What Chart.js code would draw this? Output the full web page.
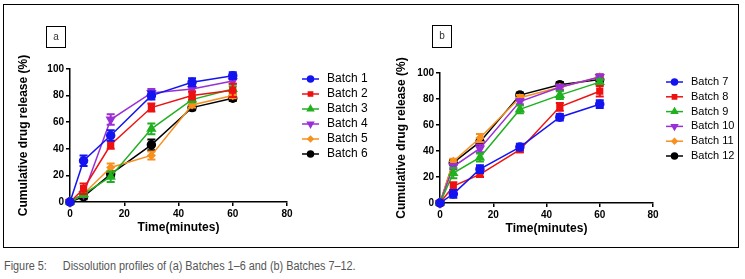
<!DOCTYPE html>
<html>
<head>
<meta charset="utf-8">
<script src="https://cdn.jsdelivr.net/npm/chart.js@4.4.1/dist/chart.umd.min.js"></script>
<style>
  body { margin: 0; background: #fff; width: 745px; height: 279px; position: relative; overflow: hidden; font-family: "Liberation Sans", Arial, sans-serif; }
  #frame { position: absolute; left: 3px; top: 4px; width: 734px; height: 242px; border: 1.5px solid #000; }
  .tag { position: absolute; width: 18px; height: 20px; border: 1px solid #000; font-size: 10px; line-height: 20px; text-align: center; color: #333; }
  canvas { position: absolute; top: 0; }
  #caption { position: absolute; left: 4px; top: 259px; font-family: "Liberation Sans Narrow", "Liberation Sans", sans-serif; font-size: 12px; color: #555; white-space: nowrap; transform: scaleX(0.905); transform-origin: 0 0; }
  #caption span { display: inline-block; width: 65px; }
</style>
</head>
<body>
<div id="frame"></div>
<canvas id="chartA" width="372" height="249" style="left:0"></canvas>
<canvas id="chartB" width="373" height="249" style="left:372px"></canvas>
<div class="tag" style="left:46px; top:26px;">a</div>
<div class="tag" style="left:432px; top:25px; height:21px;">b</div>
<div id="caption"><span>Figure 5:</span>Dissolution profiles of (a) Batches 1–6 and (b) Batches 7–12.</div>
<script>
// sampling times (minutes)
const timePoints = [0, 5, 15, 30, 45, 60];

// panel a
const namesA = ['Batch 1', 'Batch 2', 'Batch 3', 'Batch 4', 'Batch 5', 'Batch 6'];
const batch1 = [0, 31, 50, 80, 90, 95];
const batch2 = [0, 10, 43, 71, 80, 84];
const batch3 = [0, 6, 19, 55, 77, 85];
const batch4 = [0, 6, 62, 82, 85, 91];
const batch5 = [0, 6, 26, 35, 73, 80];
const batch6 = [0, 4, 21, 43, 71, 78];
const batch1Err = [0, 4, 4, 3, 3, 2.5];
const batch2Err = [0, 4, 3, 3, 3, 5];
const batch3Err = [0, 2, 4, 4, 2, 2];
const batch4Err = [0, 0, 4, 3, 2, 2];
const batch5Err = [0, 2, 3, 3, 2, 2];
const batch6Err = [0, 2, 2, 4, 2, 2];

// panel b
const namesB = ['Batch 7', 'Batch 8', 'Batch 9', 'Batch 10', 'Batch 11', 'Batch 12'];
const batch7 = [0, 7, 26, 43, 66, 76];
const batch8 = [0, 13, 22, 41, 74, 86];
const batch9 = [0, 23, 35, 72, 83, 93];
const batch10 = [0, 28, 42, 78, 89, 97];
const batch11 = [0, 32, 50, 81, 89, 97];
const batch12 = [0, 31, 47, 83, 91, 95];
const batch7Err = [0, 3, 3, 2.5, 2.5, 3];
const batch8Err = [0, 3, 2, 2, 3, 4];
const batch9Err = [0, 4, 3, 3, 3, 2];
const batch10Err = [0, 2, 3, 2, 2, 2];
const batch11Err = [0, 2, 3, 2, 2, 2];
const batch12Err = [0, 2, 2, 2, 2, 2];

const yTicks = [0, 20, 40, 60, 80, 100];
const xTicks = [0, 20, 40, 60, 80];

const colors = ['#1414f0', '#ee1111', '#20b020', '#9a2fd6', '#f7901e', '#000000'];
const shapes = ['circle', 'rect', 'triangle', 'triangle', 'rectRot', 'circle'];
const rotations = [0, 0, 0, 180, 0, 0];
const radii = [4, 4, 4.5, 4.5, 3.5, 4];

const fontFamily = '"Liberation Sans", Arial, sans-serif';

// draws the error bars of each dataset right after the dataset itself
const errorBars = {
  id: 'errorBars',
  afterDatasetDraw(chart, args) {
    const ds = chart.data.datasets[args.index];
    if (!ds.errors) return;
    const ys = chart.scales.y;
    const ctx = chart.ctx;
    ctx.save();
    ctx.strokeStyle = ds.borderColor;
    ctx.lineWidth = 2;
    args.meta.data.forEach((pt, i) => {
      const e = ds.errors[i];
      if (!e) return;
      const v = ds.data[i].y;
      const top = ys.getPixelForValue(v + e);
      const bot = ys.getPixelForValue(v - e);
      ctx.beginPath();
      ctx.moveTo(pt.x, top); ctx.lineTo(pt.x, bot);
      ctx.moveTo(pt.x - 4, top); ctx.lineTo(pt.x + 4, top);
      ctx.moveTo(pt.x - 4, bot); ctx.lineTo(pt.x + 4, bot);
      ctx.stroke();
    });
    ctx.restore();
  }
};

// legend on the right: line + marker + label
const sideLegend = {
  id: 'sideLegend',
  afterDraw(chart, args, opts) {
    const ctx = chart.ctx;
    chart.data.datasets.forEach((ds, i) => {
      const y = opts.top + i * opts.spacing;
      ctx.save();
      ctx.strokeStyle = ds.borderColor;
      ctx.lineWidth = 1.5;
      ctx.beginPath();
      ctx.moveTo(opts.left, y);
      ctx.lineTo(opts.left + opts.lineLength, y);
      ctx.stroke();
      ctx.fillStyle = ds.pointBackgroundColor;
      Chart.helpers.drawPoint(ctx, {
        pointStyle: ds.pointStyle, radius: ds.pointRadius * 0.75,
        rotation: ds.pointRotation, borderWidth: 1
      }, opts.left + opts.lineLength / 2, y);
      ctx.fillStyle = '#000';
      ctx.font = opts.fontSize + 'px ' + fontFamily;
      ctx.textBaseline = 'middle';
      ctx.textAlign = 'left';
      ctx.fillText(ds.label, opts.left + opts.lineLength + opts.gap, y);
      ctx.restore();
    });
  }
};

function buildDatasets(names, values, errors) {
  return names.map((name, i) => ({
    label: name,
    data: timePoints.map((t, j) => ({ x: t, y: values[i][j] })),
    errors: errors[i],
    borderColor: colors[i],
    backgroundColor: colors[i],
    pointBackgroundColor: colors[i],
    pointBorderColor: colors[i],
    pointStyle: shapes[i],
    pointRotation: rotations[i],
    pointRadius: radii[i],
    borderWidth: 1.5,
    tension: 0,
    clip: false
  }));
}

function makeChart(id, datasets, geo) {
  const tickFont = { family: fontFamily, size: 10, weight: 'bold' };
  const titleFont = { family: fontFamily, size: 12, weight: 'bold' };
  return new Chart(document.getElementById(id), {
    type: 'line',
    data: { datasets: datasets },
    options: {
      responsive: false,
      animation: false,
      layout: { padding: geo.padding },
      plugins: {
        legend: { display: false },
        tooltip: { enabled: false },
        sideLegend: geo.legend
      },
      scales: {
        x: {
          type: 'linear', min: 0, max: 80,
          afterBuildTicks: scale => { scale.ticks = xTicks.map(v => ({ value: v })); },
          ticks: { color: '#000', font: tickFont, padding: 2 },
          grid: { drawOnChartArea: false, drawTicks: true, tickLength: 4, color: '#000', lineWidth: 1.5 },
          border: { display: true, color: '#000', width: 1.5 },
          title: { display: true, text: 'Time(minutes)', color: '#000', font: titleFont, padding: { top: 0, bottom: 7 } },
          afterFit: scale => { scale.height = 40; }
        },
        y: {
          min: 0, max: 100,
          afterBuildTicks: scale => { scale.ticks = yTicks.map(v => ({ value: v })); },
          ticks: { color: '#000', font: tickFont, padding: 2 },
          grid: { drawOnChartArea: false, drawTicks: true, tickLength: 4, color: '#000', lineWidth: 1.5 },
          border: { display: true, color: '#000', width: 1.5 },
          title: { display: true, text: 'Cumulative drug release (%)', color: '#000', font: titleFont, padding: { top: geo.yTitlePad, bottom: 0 } },
          afterFit: scale => { scale.width = geo.yWidth; }
        }
      }
    },
    plugins: [errorBars, sideLegend]
  });
}

makeChart('chartA',
  buildDatasets(namesA,
    [batch1, batch2, batch3, batch4, batch5, batch6],
    [batch1Err, batch2Err, batch3Err, batch4Err, batch5Err, batch6Err]),
  {
    padding: { left: 0, top: 69, right: 85, bottom: 7 },
    yWidth: 70, yTitlePad: 16,
    legend: { left: 302, lineLength: 17, gap: 8, top: 79, spacing: 15, fontSize: 12 }
  });

makeChart('chartB',
  buildDatasets(namesB,
    [batch7, batch8, batch9, batch10, batch11, batch12],
    [batch7Err, batch8Err, batch9Err, batch10Err, batch11Err, batch12Err]),
  {
    padding: { left: 0, top: 73, right: 92, bottom: 6 },
    yWidth: 68, yTitlePad: 22,
    legend: { left: 294, lineLength: 17, gap: 8, top: 82, spacing: 14.8, fontSize: 11 }
  });
</script>
</body>
</html>
